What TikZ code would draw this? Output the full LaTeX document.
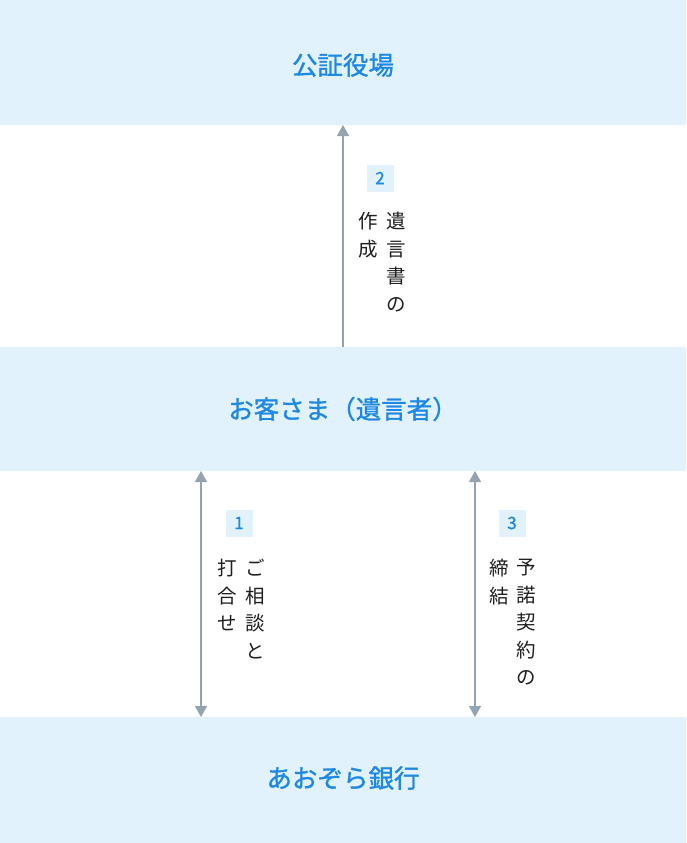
\documentclass[tikz,border=0pt]{standalone}
\usepackage{fontspec}
\setmainfont{Noto Sans CJK JP}
\newfontfamily\medfont[FakeBold=1.2]{Noto Sans CJK JP}
\usetikzlibrary{arrows.meta}
\definecolor{band}{HTML}{E1F2FD}
\definecolor{ttl}{HTML}{1E88E5}
\definecolor{arr}{HTML}{94A3B0}
\tikzset{
 bandbox/.style={fill=band,draw=none},
 ttlnode/.style={text=ttl,font=\medfont\fontsize{25.5}{30}\selectfont},
 numbox/.style={fill=band,text=ttl,minimum width=27pt,minimum height=27pt,inner sep=0pt,font=\medfont\fontsize{17}{20}\selectfont},
 vtext/.style={anchor=north,align=center,inner sep=0pt,font=\fontsize{19.5}{27.5}\selectfont,text=black!88},
 conn/.style={draw=arr,line width=1.3pt},
 tip/.style={-{Triangle[length=11pt,width=12pt]}}
}
\begin{document}
\begin{tikzpicture}[x=1pt,y=-1pt]
\useasboundingbox (0,0) rectangle (686,843);
\fill[white] (0,0) rectangle (686,843);
\fill[bandbox] (0,0) rectangle (686,125);
\fill[bandbox] (0,347) rectangle (686,471);
\fill[bandbox] (0,717) rectangle (686,843);
\node[ttlnode] (a) at (343,65) {公証役場};
\node[ttlnode] (b) at (343,409) {お客さま（遺言者）};
\node[ttlnode] (c) at (343,778) {あおぞら銀行};
\coordinate (a1) at (343,125);
\coordinate (b1) at (343,347);
\coordinate (b2) at (201,471);
\coordinate (c2) at (201,717);
\coordinate (b3) at (475,471);
\coordinate (c3) at (475,717);
\draw[conn,tip] (b1) -- (a1);
\draw[conn,{Triangle[length=11pt,width=12pt]}-{Triangle[length=11pt,width=12pt]}] (b2) -- (c2);
\draw[conn,{Triangle[length=11pt,width=12pt]}-{Triangle[length=11pt,width=12pt]}] (b3) -- (c3);
\node[numbox] (n2) at (380,178) {2};
\node[vtext] (t2a) at (396,212) {遺\\言\\書\\の};
\node[vtext] (t2b) at (368,212) {作\\成};
\node[numbox] (n1) at (239,523) {1};
\node[vtext] (t1a) at (255,559) {ご\\相\\談\\と};
\node[vtext] (t1b) at (227,559) {打\\合\\せ};
\node[numbox] (n3) at (512,523) {3};
\node[vtext] (t3a) at (526,559) {予\\諾\\契\\約\\の};
\node[vtext] (t3b) at (499,559) {締\\結};
\end{tikzpicture}
\end{document}
